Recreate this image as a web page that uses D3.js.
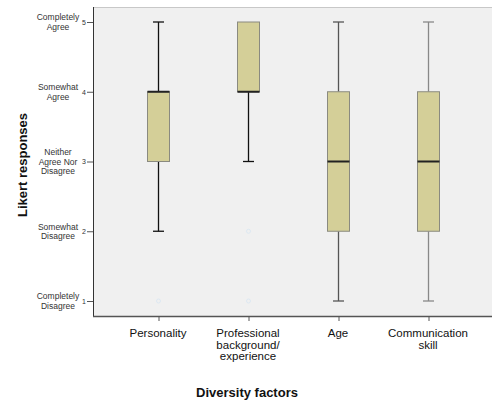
<!DOCTYPE html>
<html>
<head>
<meta charset="utf-8">
<script src="https://cdn.jsdelivr.net/npm/d3@7"></script>
<style>
  html, body { margin: 0; padding: 0; background: #fff; }
  svg { display: block; font-family: "Liberation Sans", Arial, sans-serif; }
</style>
</head>
<body>
<svg id="chart" width="492" height="400"></svg>
<script>
// Diversity factors and their box-plot summaries (Likert 1–5)
const categories = [
  ["Personality"],
  ["Professional", "background/", "experience"],
  ["Age"],
  ["Communication", "skill"]
];
const mins    = [2, 3, 1, 1];
const q1s     = [3, 4, 2, 2];
const medians = [4, 4, 3, 3];
const q3s     = [4, 5, 4, 4];
const maxs    = [5, 5, 5, 5];
const outliers = [[1], [2, 1], [], []];
const whiskerColors = ["#111", "#111", "#555", "#888"];

const yTicks = [1, 2, 3, 4, 5];
const yTickLabels = [
  ["Completely", "Disagree"],
  ["Somewhat", "Disagree"],
  ["Neither", "Agree Nor", "Disagree"],
  ["Somewhat", "Agree"],
  ["Completely", "Agree"]
];

const svg = d3.select("#chart");
const plot = { left: 93, right: 492, top: 7, bottom: 316 };

const x = d3.scalePoint()
  .domain(d3.range(categories.length))
  .range([158, 428]);
const y = d3.scaleLinear().domain([1, 5]).range([301, 22]);

// plot background
svg.append("rect")
  .attr("x", plot.left).attr("y", plot.top)
  .attr("width", plot.right - plot.left).attr("height", plot.bottom - plot.top)
  .attr("fill", "#f0f0f0");
svg.append("line")
  .attr("x1", plot.left).attr("x2", plot.right)
  .attr("y1", plot.top + 0.5).attr("y2", plot.top + 0.5)
  .attr("stroke", "#c8c8c8");

// boxes
const boxW = 22, capW = 11;
const g = svg.append("g");
categories.forEach((c, i) => {
  const cx = Math.round(x(i)) + 0.5;
  const col = whiskerColors[i];
  // whiskers
  g.append("line").attr("x1", cx).attr("x2", cx)
    .attr("y1", y(maxs[i])).attr("y2", y(q3s[i]))
    .attr("stroke", col).attr("stroke-width", 1.3);
  g.append("line").attr("x1", cx).attr("x2", cx)
    .attr("y1", y(q1s[i])).attr("y2", y(mins[i]))
    .attr("stroke", col).attr("stroke-width", 1.3);
  [mins[i], maxs[i]].forEach(v => {
    if (v === q1s[i] || v === q3s[i]) return;
    g.append("line").attr("x1", cx - capW / 2).attr("x2", cx + capW / 2)
      .attr("y1", y(v)).attr("y2", y(v))
      .attr("stroke", col).attr("stroke-width", 1.3);
  });
  // box
  g.append("rect")
    .attr("x", cx - boxW / 2).attr("y", y(q3s[i]))
    .attr("width", boxW).attr("height", y(q1s[i]) - y(q3s[i]))
    .attr("fill", "#d4cf98").attr("stroke", "#8a8a80").attr("stroke-width", 1);
  // median
  g.append("line").attr("x1", cx - boxW / 2).attr("x2", cx + boxW / 2)
    .attr("y1", y(medians[i])).attr("y2", y(medians[i]))
    .attr("stroke", "#222").attr("stroke-width", 2);
  // faint outliers
  outliers[i].forEach(v => {
    g.append("circle").attr("cx", cx).attr("cy", y(v)).attr("r", 2)
      .attr("fill", "none").attr("stroke", "#dde8f2").attr("stroke-width", 1);
  });
});

// y axis
const yAxis = svg.append("g").attr("transform", `translate(${plot.left},0)`)
  .call(d3.axisLeft(y).tickValues(yTicks).tickSize(6).tickFormat(d3.format("d")));
yAxis.select(".domain").attr("d", `M0.5,${plot.top}V${plot.bottom}`).attr("stroke", "#333");
yAxis.selectAll(".tick line").attr("stroke", "#555");
yAxis.selectAll(".tick text").attr("font-size", 7).attr("fill", "#333").attr("x", -7);

yTicks.forEach((t, i) => {
  const lines = yTickLabels[i];
  const lh = 9.5;
  const t0 = y(t) - (lines.length - 1) * lh / 2 + 3;
  const txt = svg.append("text")
    .attr("text-anchor", "middle").attr("font-size", 8.5).attr("fill", "#333");
  lines.forEach((l, k) => {
    txt.append("tspan").attr("x", 58).attr("y", t0 + k * lh).text(l);
  });
});

// x axis
const xAxis = svg.append("g").attr("transform", `translate(0,${plot.bottom})`)
  .call(d3.axisBottom(x).tickSize(5).tickFormat(""));
xAxis.select(".domain").attr("d", `M${plot.left},0.5H${plot.right}`).attr("stroke", "#555").attr("stroke-width", 1.5);
xAxis.selectAll(".tick line").attr("stroke", "#555").attr("transform", "translate(0.5,0)");

categories.forEach((lines, i) => {
  const txt = svg.append("text")
    .attr("text-anchor", "middle").attr("font-size", 11.5).attr("fill", "#111");
  lines.forEach((l, k) => {
    txt.append("tspan").attr("x", x(i)).attr("y", 337 + k * 11.5).text(l);
  });
});

// axis titles
svg.append("text")
  .attr("x", 247).attr("y", 397)
  .attr("text-anchor", "middle").attr("font-size", 13).attr("font-weight", "bold")
  .attr("fill", "#111").text("Diversity factors");
svg.append("text")
  .attr("transform", "translate(27,165) rotate(-90)")
  .attr("text-anchor", "middle").attr("font-size", 13).attr("font-weight", "bold")
  .attr("fill", "#111").text("Likert responses");
</script>
</body>
</html>
